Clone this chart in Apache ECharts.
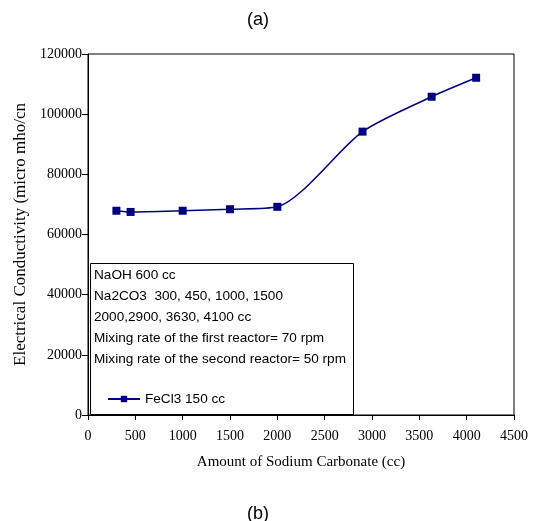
<!DOCTYPE html>
<html>
<head>
<meta charset="utf-8">
<script src="https://cdn.jsdelivr.net/npm/echarts@6/dist/echarts.min.js"></script>
<style>
  html, body { margin: 0; padding: 0; background: #fff; }
  #chart { width: 538px; height: 521px; }
</style>
</head>
<body>
<div id="chart"></div>
<script>
// Amount of sodium carbonate added (cc)
const sodiumCarbonate = [300, 450, 1000, 1500, 2000, 2900, 3630, 4100];
// Electrical conductivity (micro mho/cm) with FeCl3 150 cc
const conductivity = [67900, 67500, 67900, 68400, 69200, 94200, 105800, 112100];
const seriesName = 'FeCl3 150 cc';
const noteLines = [
  'NaOH 600 cc',
  'Na2CO3  300, 450, 1000, 1500',
  '2000,2900, 3630, 4100 cc',
  'Mixing rate of the first reactor= 70 rpm',
  'Mixing rate of the second reactor= 50 rpm'
];

const serif = '"Liberation Serif", "Times New Roman", serif';
const sans = '"Liberation Sans", Arial, sans-serif';
const navy = '#000080';

const chart = echarts.init(document.getElementById('chart'), null, { renderer: 'canvas' });

const gridLeft = 88, gridTop = 54, gridWidth = 426, gridHeight = 361;

const noteTexts = noteLines.map((t, i) => ({
  type: 'text',
  left: 94,
  top: 268 + i * 21,
  z: 101,
  style: { text: t, font: '13.6px ' + sans, fill: '#000' }
}));

chart.setOption({
  animation: false,
  backgroundColor: '#fff',
  grid: {
    left: gridLeft, top: gridTop, width: gridWidth, height: gridHeight,
    show: true, borderColor: '#000', borderWidth: 1, backgroundColor: 'transparent'
  },
  xAxis: {
    type: 'value',
    min: 0, max: 4500, interval: 500,
    name: 'Amount of Sodium Carbonate (cc)',
    nameLocation: 'middle',
    nameGap: 40,
    nameTextStyle: { fontFamily: serif, fontSize: 15, color: '#000' },
    axisLine: { show: true, onZero: false, lineStyle: { color: '#000', width: 1 } },
    axisTick: { show: true, inside: false, length: 5, lineStyle: { color: '#000' } },
    axisLabel: { fontFamily: serif, fontSize: 14, color: '#000', margin: 14, formatter: v => String(v) },
    splitLine: { show: false }
  },
  yAxis: {
    type: 'value',
    min: 0, max: 120000, interval: 20000,
    name: 'Electrical Conductivity (micro mho/cn',
    nameLocation: 'middle',
    nameGap: 56,
    nameRotate: 90,
    nameTextStyle: { fontFamily: serif, fontSize: 17, color: '#000' },
    axisLine: { show: true, lineStyle: { color: '#000', width: 1 } },
    axisTick: { show: true, inside: false, length: 6, lineStyle: { color: '#000' } },
    axisLabel: { fontFamily: serif, fontSize: 14, color: '#000', margin: 6, formatter: v => String(v) },
    splitLine: { show: false }
  },
  legend: {
    show: true,
    data: [seriesName],
    left: 102,
    top: 387,
    z: 102,
    itemWidth: 32,
    itemHeight: 8,
    itemGap: 4,
    textStyle: { fontFamily: sans, fontSize: 13.6, color: '#000' }
  },
  graphic: [
    {
      type: 'rect',
      left: 90, top: 263, z: 100,
      shape: { width: 263, height: 151 },
      style: { fill: '#fff', stroke: '#000', lineWidth: 1 }
    },
    ...noteTexts,
    {
      type: 'text', left: 247, top: 11, z: 101,
      style: { text: '(a)', font: '18px ' + sans, fill: '#000' }
    },
    {
      type: 'text', left: 247, top: 505, z: 101,
      style: { text: '(b)', font: '18px ' + sans, fill: '#000' }
    }
  ],
  series: [{
    name: seriesName,
    type: 'line',
    smooth: 0.25,
    data: sodiumCarbonate.map((x, i) => [x, conductivity[i]]),
    symbol: 'rect',
    symbolSize: 8,
    itemStyle: { color: navy },
    lineStyle: { color: navy, width: 1.5 },
    z: 3
  }]
});
</script>
</body>
</html>
